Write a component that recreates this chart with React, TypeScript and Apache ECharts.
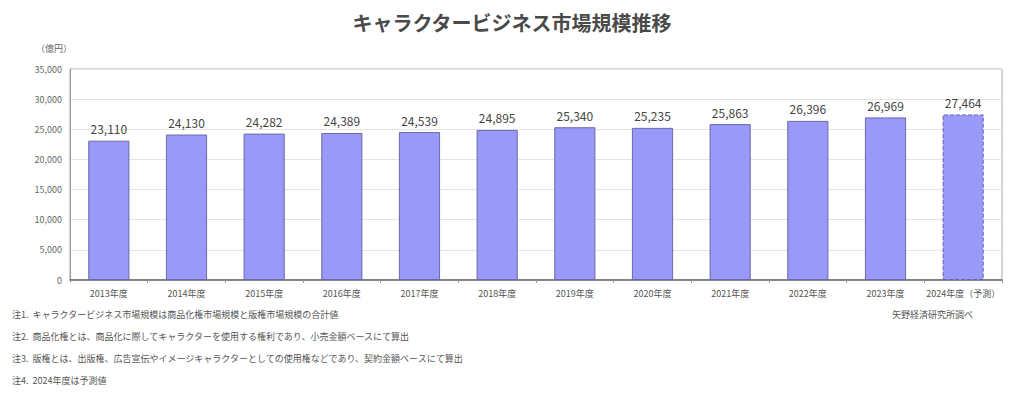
import React, { useEffect, useRef } from "react";
import * as echarts from "echarts";

const categories = [
  "2013年度", "2014年度", "2015年度", "2016年度", "2017年度", "2018年度",
  "2019年度", "2020年度", "2021年度", "2022年度", "2023年度", "2024年度（予測）",
];
const values = [23110, 24130, 24282, 24389, 24539, 24895, 25340, 25235, 25863, 26396, 26969, 27464];
const yTicks = { min: 0, max: 35000, interval: 5000 };
const notes = [
  "注1.  キャラクタービジネス市場規模は商品化権市場規模と版権市場規模の合計値",
  "注2.  商品化権とは、商品化に際してキャラクターを使用する権利であり、小売金額ベースにて算出",
  "注3.  版権とは、出版権、広告宣伝やイメージキャラクターとしての使用権などであり、契約金額ベースにて算出",
  "注4.  2024年度は予測値",
];
const source = "矢野経済研究所調べ";
const titleText = "キャラクタービジネス市場規模推移";
const unitText = "（億円）";

const FONT = "'Noto Sans CJK JP', 'Noto Sans', sans-serif";

export default function App() {
  const ref = useRef<HTMLDivElement>(null);
  useEffect(() => {
    document.body.style.margin = "0";
    const chart = echarts.init(ref.current!, null, { renderer: "svg" });
    const lastIdx = values.length - 1;
    chart.setOption({
      animation: false,
      backgroundColor: "#ffffff",
      textStyle: { fontFamily: FONT },
      title: {
        text: titleText,
        left: "center",
        top: 7,
        textStyle: { fontFamily: FONT, fontSize: 20, fontWeight: "bold", color: "#4a4a4a" },
      },
      grid: {
        left: 70, right: 22, top: 69, bottom: 118,
        show: true, borderColor: "#aaa", borderWidth: 1,
      },
      xAxis: {
        type: "category",
        data: categories,
        axisLine: { lineStyle: { color: "#666", width: 1.5 } },
        axisTick: { show: true, length: 3, lineStyle: { color: "#999" } },
        axisLabel: { fontSize: 9, color: "#555", margin: 9, interval: 0 },
      },
      yAxis: {
        type: "value",
        min: yTicks.min, max: yTicks.max, interval: yTicks.interval,
        axisLine: { show: true, lineStyle: { color: "#999" } },
        axisTick: { show: false },
        axisLabel: {
          fontSize: 9, color: "#666", margin: 8,
          formatter: (v: number) => v.toLocaleString("en-US"),
        },
        splitLine: { lineStyle: { color: "#e4e4e4", width: 1 } },
      },
      series: [
        {
          type: "bar",
          barWidth: "53%",
          data: values.map((v, i) => ({
            value: v,
            itemStyle: i === lastIdx
              ? { color: "#9999fa", borderColor: "#6666aa", borderWidth: 1, borderType: "dashed" }
              : { color: "#9999fa", borderColor: "#6a6aa8", borderWidth: 1 },
          })),
          label: {
            show: true,
            position: "top",
            distance: 6,
            fontSize: 12,
            color: "#444",
            formatter: (p: any) => Number(p.value).toLocaleString("en-US"),
          },
        },
      ],
      graphic: [
        {
          type: "text", left: 36, top: 44,
          style: { text: unitText, fontSize: 9, fill: "#666", fontFamily: FONT },
        },
        ...notes.map((n, i) => ({
          type: "text", left: 12, top: 310 + i * 22,
          style: { text: n, fontSize: 9, fill: "#555", fontFamily: FONT },
        })),
        {
          type: "text", left: 892, top: 310,
          style: { text: source, fontSize: 9, fill: "#555", fontFamily: FONT },
        },
      ],
    });
    return () => chart.dispose();
  }, []);
  return <div ref={ref} style={{ width: 1024, height: 398 }} />;
}
